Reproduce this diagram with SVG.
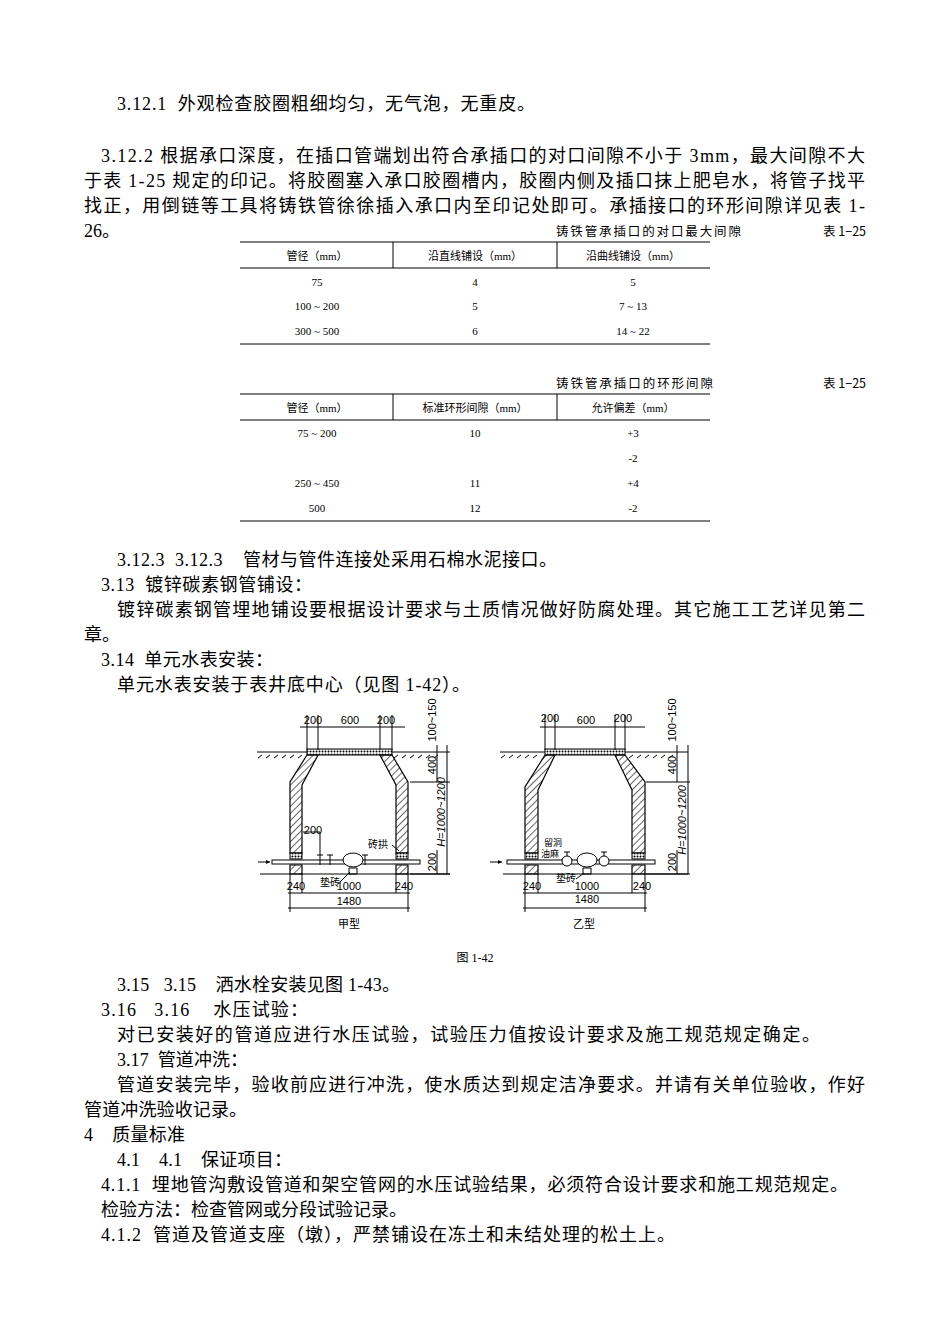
<svg xmlns="http://www.w3.org/2000/svg" width="950" height="1344" viewBox="0 0 950 1344">
<style>
.b{font-family:"Liberation Serif","Noto Sans CJK SC",serif;font-size:18px;fill:#000;white-space:pre}
.t{font-family:"Liberation Serif","Noto Sans CJK SC",serif;font-size:11px;fill:#000;text-anchor:middle}
.c{font-family:"Noto Sans CJK SC",sans-serif;font-size:12.5px;fill:#000}
.d{font-family:"Liberation Sans","Noto Sans CJK SC",sans-serif;font-size:11px;fill:#000;text-anchor:middle}
.l{stroke:#000;stroke-width:1;fill:none}
.w{stroke:#000;stroke-width:1.2;fill:url(#h)}
</style>
<defs>
<pattern id="h" width="5" height="5" patternUnits="userSpaceOnUse" patternTransform="rotate(45)"><line x1="0" y1="0" x2="0" y2="5" stroke="#000" stroke-width="1.2"/></pattern>
<pattern id="x" width="3" height="3" patternUnits="userSpaceOnUse"><rect width="3" height="3" fill="#fff"/><circle cx="1.5" cy="1.5" r="1" fill="#000"/></pattern>
</defs>
<rect width="950" height="1344" fill="#fff"/>
<g id="text">
<text class="b" x="117" y="110" textLength="418" lengthAdjust="spacing">3.12.1  外观检查胶圈粗细均匀，无气泡，无重皮。</text>
<text class="b" x="101" y="162" textLength="764" lengthAdjust="spacing">3.12.2 根据承口深度，在插口管端划出符合承插口的对口间隙不小于 3mm，最大间隙不大</text>
<text class="b" x="84" y="187" textLength="781" lengthAdjust="spacing">于表 1-25 规定的印记。将胶圈塞入承口胶圈槽内，胶圈内侧及插口抹上肥皂水，将管子找平</text>
<text class="b" x="84" y="212" textLength="781" lengthAdjust="spacing">找正，用倒链等工具将铸铁管徐徐插入承口内至印记处即可。承插接口的环形间隙详见表 1-</text>
<text class="b" x="84" y="237">26。</text>
<text class="b" x="117" y="566" textLength="440" lengthAdjust="spacing">3.12.3  3.12.3    管材与管件连接处采用石棉水泥接口。</text>
<text class="b" x="101" y="591" textLength="211" lengthAdjust="spacing">3.13  镀锌碳素钢管铺设：</text>
<text class="b" x="117" y="616" textLength="748" lengthAdjust="spacing">镀锌碳素钢管埋地铺设要根据设计要求与土质情况做好防腐处理。其它施工工艺详见第二</text>
<text class="b" x="84" y="641">章。</text>
<text class="b" x="101" y="666" textLength="172" lengthAdjust="spacing">3.14  单元水表安装：</text>
<text class="b" x="117" y="691" textLength="353" lengthAdjust="spacing">单元水表安装于表井底中心（见图 1-42）。</text>
<text class="t" x="475" y="962" style="font-size:12px">图 1-42</text>
<text class="b" x="117" y="991" textLength="283" lengthAdjust="spacing">3.15   3.15    洒水栓安装见图 1-43。</text>
<text class="b" x="101" y="1016" textLength="207" lengthAdjust="spacing">3.16   3.16    水压试验：</text>
<text class="b" x="117" y="1041" textLength="703" lengthAdjust="spacing">对已安装好的管道应进行水压试验，试验压力值按设计要求及施工规范规定确定。</text>
<text class="b" x="117" y="1066" textLength="131" lengthAdjust="spacing">3.17  管道冲洗：</text>
<text class="b" x="117" y="1091" textLength="748" lengthAdjust="spacing">管道安装完毕，验收前应进行冲洗，使水质达到规定洁净要求。并请有关单位验收，作好</text>
<text class="b" x="84" y="1116" textLength="163" lengthAdjust="spacing">管道冲洗验收记录。</text>
<text class="b" x="84" y="1141" textLength="101" lengthAdjust="spacing">4    质量标准</text>
<text class="b" x="117" y="1166" textLength="175" lengthAdjust="spacing">4.1    4.1    保证项目：</text>
<text class="b" x="101" y="1191" textLength="747" lengthAdjust="spacing">4.1.1  埋地管沟敷设管道和架空管网的水压试验结果，必须符合设计要求和施工规范规定。</text>
<text class="b" x="101" y="1216">检验方法：检查管网或分段试验记录。</text>
<text class="b" x="101" y="1241" textLength="574" lengthAdjust="spacing">4.1.2  管道及管道支座（墩），严禁铺设在冻土和未结处理的松土上。</text>
</g>
<g id="table1">
<text class="c" x="556" y="236" textLength="185">铸铁管承插口的对口最大间隙</text>
<text class="c" x="823" y="236">表 1−25</text>
<path class="l" d="M240 242H710M240 268H710M240 344H710M393 242V268M557 242V268"/>
<text class="t" x="317" y="260">管径（mm）</text><text class="t" x="475" y="260">沿直线铺设（mm）</text><text class="t" x="633" y="260">沿曲线铺设（mm）</text>
<text class="t" x="317" y="286">75</text><text class="t" x="475" y="286">4</text><text class="t" x="633" y="286">5</text>
<text class="t" x="317" y="310">100 ~ 200</text><text class="t" x="475" y="310">5</text><text class="t" x="633" y="310">7 ~ 13</text>
<text class="t" x="317" y="335">300 ~ 500</text><text class="t" x="475" y="335">6</text><text class="t" x="633" y="335">14 ~ 22</text>
</g>
<g id="table2">
<text class="c" x="556" y="388" textLength="157">铸铁管承插口的环形间隙</text>
<text class="c" x="823" y="388">表 1−25</text>
<path class="l" d="M240 394H710M240 420H710M240 521H710M393 394V420M557 394V420"/>
<text class="t" x="317" y="412">管径（mm）</text><text class="t" x="475" y="412">标准环形间隙（mm）</text><text class="t" x="633" y="412">允许偏差（mm）</text>
<text class="t" x="317" y="437">75 ~ 200</text><text class="t" x="475" y="437">10</text><text class="t" x="633" y="437">+3</text>
<text class="t" x="633" y="462">-2</text>
<text class="t" x="317" y="487">250 ~ 450</text><text class="t" x="475" y="487">11</text><text class="t" x="633" y="487">+4</text>
<text class="t" x="317" y="512">500</text><text class="t" x="475" y="512">12</text><text class="t" x="633" y="512">-2</text>
</g>
<g id="figA">
<path class="l" d="M257 752H307M390 752H450M260 874H450" stroke-width="1.5"/>
<path class="l" d="M262 755l-4 3M270 755l-4 3M278 755l-4 3M286 755l-4 3M294 755l-4 3M302 755l-4 3M398 755l-4 3M406 755l-4 3M414 755l-4 3M422 755l-4 3M430 755l-4 3M438 755l-4 3"/>
<rect x="307" y="749" width="85" height="6" fill="url(#x)" stroke="#000"/>
<path class="w" d="M307 755L290 782V853H302V785L318 755Z"/>
<path class="w" d="M392 755L408 782V853H396V785L380 755Z"/>
<rect x="290" y="853" width="12" height="6" fill="url(#x)" stroke="#000"/>
<rect x="396" y="853" width="12" height="6" fill="url(#x)" stroke="#000"/>
<path class="w" d="M290 865H302V874H290ZM396 865H408V874H396Z"/>
<rect x="272" y="860" width="148" height="4" fill="#fff" stroke="#000"/>
<path class="l" d="M258 862h12"/><path d="M270 862l-4-2v4z"/>
<ellipse cx="353" cy="860" rx="10" ry="7" fill="#fff" stroke="#000"/>
<path class="l" d="M320 855v10M330 855v10M365 855v10M317 855h6M327 855h6M362 855h6M349 868h8v6h-8z"/>
<path class="l" d="M320 855V832H303"/>
<text class="d" x="313" y="834">200</text>
<text class="c" x="368" y="848" style="font-size:10px">砖拱</text><path class="l" d="M392 845l7 6"/>
<text class="c" x="320" y="886" style="font-size:10px">垫砖</text><path class="l" d="M340 882l10-10"/>
<path class="l" d="M290 874V912M408 874V912M302 874V893M396 874V893M288 893H410M288 908H410M300 727H405M307 715V750M318 715V750M380 715V750M392 715V750"/>
<text class="d" x="313" y="724">200</text><text class="d" x="350" y="724">600</text><text class="d" x="386" y="724">200</text>
<text class="d" x="296" y="890">240</text><text class="d" x="349" y="890">1000</text><text class="d" x="404" y="890">240</text>
<text class="d" x="349" y="905">1480</text>
<text class="c" x="338" y="928" style="font-size:11px">甲型</text>
<path class="l" d="M447 745V874M437 745V782M410 782H450M410 874H450M437 850V874"/>
<text class="d" transform="translate(436,765) rotate(-90)">400</text>
<text class="d" transform="translate(436,720) rotate(-90)">100~150</text>
<text class="d" transform="translate(445,812) rotate(-90)" style="font-style:italic">H=1000~1200</text>
<text class="d" transform="translate(436,862) rotate(-90)">200</text>
</g>
<g id="figB">
<path class="l" d="M500 752H545M625 752H688M503 874H688" stroke-width="1.5"/>
<path class="l" d="M505 755l-4 3M513 755l-4 3M521 755l-4 3M529 755l-4 3M537 755l-4 3M633 755l-4 3M641 755l-4 3M649 755l-4 3M657 755l-4 3M665 755l-4 3M673 755l-4 3"/>
<rect x="545" y="749" width="80" height="6" fill="url(#x)" stroke="#000"/>
<path class="w" d="M545 755L525 787V853H538V790L555 755Z"/>
<path class="w" d="M625 755L645 782V853H632V790L615 755Z"/>
<rect x="525" y="853" width="13" height="6" fill="url(#x)" stroke="#000"/>
<rect x="632" y="853" width="13" height="6" fill="url(#x)" stroke="#000"/>
<path class="w" d="M525 865H538V874H525ZM632 865H645V874H632Z"/>
<rect x="507" y="860" width="148" height="4" fill="#fff" stroke="#000"/>
<path class="l" d="M490 862h12"/><path d="M502 862l-4-2v4z"/>
<ellipse cx="587" cy="860" rx="10" ry="7" fill="#fff" stroke="#000"/>
<circle cx="567" cy="861" r="5" fill="#fff" stroke="#000"/><circle cx="604" cy="861" r="5" fill="#fff" stroke="#000"/>
<path class="l" d="M567 852v4M604 852v4M564 852h6M601 852h6M583 868h8v6h-8z"/>
<text class="c" x="544" y="846" style="font-size:9px">留洞</text>
<text class="c" x="541" y="857" style="font-size:9px">油麻</text>
<text class="c" x="556" y="882" style="font-size:10px">垫砖</text><path class="l" d="M576 879l8-6"/>
<path class="l" d="M525 874V912M645 874V912M538 874V893M632 874V893M523 893H647M523 908H647M540 727H645M545 715V750M555 715V750M615 715V750M625 715V750"/>
<text class="d" x="550" y="722">200</text><text class="d" x="586" y="724">600</text><text class="d" x="623" y="722">200</text>
<text class="d" x="532" y="890">240</text><text class="d" x="587" y="890">1000</text><text class="d" x="642" y="890">240</text>
<text class="d" x="587" y="903">1480</text>
<text class="c" x="573" y="928" style="font-size:11px">乙型</text>
<path class="l" d="M688 745V874M677 745V782M646 782H690M646 874H690M677 850V874"/>
<text class="d" transform="translate(676,765) rotate(-90)">400</text>
<text class="d" transform="translate(676,720) rotate(-90)">100~150</text>
<text class="d" transform="translate(686,820) rotate(-90)" style="font-style:italic">H=1000~1200</text>
<text class="d" transform="translate(676,862) rotate(-90)">200</text>
</g>
</svg>
